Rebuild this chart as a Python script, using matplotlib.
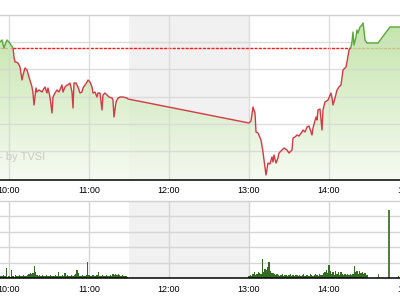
import numpy as np
import matplotlib
matplotlib.use("Agg")
import matplotlib.pyplot as plt
from matplotlib.patches import Rectangle
from matplotlib.colors import LinearSegmentedColormap
from matplotlib.transforms import blended_transform_factory

# ---------------- data (time in minutes since 09:00) ----------------
price_time = [53.25, 54.75, 56.25, 57.75, 58.5, 60, 61.5, 63, 63.75, 64.5, 65.25, 66.75,
              68.25, 69.75, 70.5, 72, 73.5, 75, 77.25, 78, 78.75, 80.25, 81, 82.5, 84.75,
              85.5, 87, 88.5, 89.25, 90.75, 92.25, 93, 94.5, 96, 97.5, 99.75, 100.5, 102,
              103.5, 104.25, 105.75, 107.25, 108, 108.75, 110.25, 111.75, 113.25, 114.75,
              115.5, 117, 118.5, 119.25, 120.75, 122.25, 123, 124.5, 126, 126.75, 128.25,
              129.75, 130.5, 132, 133.5, 135, 137.25, 138, 138.75, 140.25, 141.75, 143.25,
              144.75, 145.5, 148.5, 149.25,
              240, 241.5, 243, 244.5, 245.25, 246.75, 249, 250.5, 251.25, 252.75, 254.25,
              255.75, 257.25, 258, 258.75, 260.25, 261.75, 262.5, 264.75, 266.25, 268.5,
              270, 272.25, 273, 274.5, 276, 277.5, 279.75, 280.5, 282, 283.5, 285, 287.25,
              288, 290.25, 291, 291.75, 293.25, 294.75, 295.5, 297, 299.25, 301.5, 302.25,
              303, 304.5, 306, 307.5, 309, 310.5, 312.75, 313.5, 315, 316.5, 317.25, 318,
              318.75, 320.25, 321, 321.75, 323.25, 324.75, 325.5, 326.25, 327, 328.5,
              336.75, 345.75, 353.25]
price = [1013.7, 1013.9, 1013.1, 1013.7, 1013.9, 1013.7, 1013.4, 1013.1, 1012.2, 1011.7,
         1011.7, 1011.6, 1011.2, 1009.9, 1010.4, 1011.1, 1010.9, 1010.2, 1009.2, 1008.6,
         1007.4, 1009.1, 1008.7, 1008.9, 1008.7, 1008.9, 1009.2, 1008.6, 1009.1, 1008.2,
         1006.6, 1008.2, 1008.6, 1008.9, 1008.7, 1009.4, 1008.7, 1009.2, 1009.4, 1009.4,
         1009.6, 1008.7, 1007.1, 1009.6, 1009.6, 1009.2, 1008.6, 1008.7, 1009.1, 1009.4,
         1009.7, 1009.9, 1009.7, 1009.2, 1008.6, 1008.7, 1008.2, 1008.6, 1008.6, 1006.9,
         1008.4, 1008.6, 1008.4, 1008.2, 1008.1, 1007.9, 1006.2, 1007.7, 1008.1, 1008.2,
         1008.2, 1008.2, 1008.1, 1008.0,
         1005.6, 1005.8, 1007.2, 1006.6, 1004.7, 1004.6, 1003.9, 1002.7, 1001.9, 1000.4,
         1001.6, 1001.5, 1002.2, 1001.7, 1002.4, 1001.6, 1002.1, 1002.6, 1002.9, 1003.1,
         1002.9, 1002.6, 1002.9, 1004.1, 1004.2, 1004.4, 1004.3, 1004.7, 1004.9, 1004.7,
         1005.2, 1005.3, 1004.4, 1005.1, 1006.2, 1005.9, 1006.9, 1007.0, 1004.9, 1006.9,
         1007.7, 1007.9, 1008.6, 1008.1, 1007.4, 1008.1, 1008.9, 1009.2, 1009.4, 1010.9,
         1011.2, 1011.7, 1012.9, 1013.2, 1013.7, 1014.7, 1013.4, 1014.2, 1014.9, 1014.6,
         1015.2, 1015.4, 1015.6, 1014.9, 1013.9, 1013.6, 1013.6, 1015.2, 1015.2]
ref_price = 1013.1

vol_am_start = 54
vol_am = [2, 2, 3, 2, 11, 1, 2, 1, 9, 2, 1, 3, 2, 2, 3, 2, 2, 3, 2, 2, 3, 4, 5, 4, 5, 13,
          7, 3, 2, 3, 2, 3, 2, 2, 3, 2, 2, 3, 2, 2, 2, 3, 2, 7, 2, 2, 3, 2, 5, 2, 3, 2, 2,
          3, 2, 3, 4, 9, 5, 2, 2, 3, 2, 2, 3, 17, 3, 2, 2, 3, 2, 2, 3, 6, 2, 2, 3, 2, 2, 3,
          2, 2, 3, 2, 4, 3, 4, 3, 4, 3, 2, 3, 2, 2, 2, 1]
vol_pm_start = 240
vol_pm = [2, 3, 2, 4, 6, 3, 4, 7, 5, 4, 20, 7, 10, 9, 12, 17, 8, 5, 5, 4, 3, 4, 3, 2, 3,
          4, 2, 3, 3, 2, 3, 4, 2, 3, 2, 3, 3, 2, 3, 2, 3, 4, 2, 3, 3, 2, 4, 3, 2, 3, 4, 3,
          2, 4, 3, 3, 5, 6, 9, 5, 14, 8, 4, 7, 3, 8, 4, 6, 3, 7, 4, 3, 4, 3, 4, 3, 4, 3, 4,
          13, 6, 8, 4, 8, 5, 7, 4, 5, 3, 3]
vol_extra_time = [337, 345, 352]
vol_extra = [4, 70, 2]

hour_ticks = [60, 120, 180, 240, 300, 360]
hour_labels = ["10:00", "11:00", "12:00", "13:00", "14:00", "15:00"]
lunch_start, lunch_end = 150, 240

# ---------------- figure ----------------
xmin, xmax = 53.25, 353.25
pmin, pmax = 999.95, 1016.4
fig = plt.figure(figsize=(4, 3), dpi=100)
ax = fig.add_axes([0, 1 - 179.5 / 300, 1, (179.5 - 15) / 300])
axv = fig.add_axes([0, 1 - 278.3 / 300, 1, (278.3 - 200.7) / 300])

grid_c = '#d6d6d6'
font = ['Liberation Sans', 'DejaVu Sans']

# ---- price panel ----
ax.axvspan(lunch_start, lunch_end, color='#f1f1f1', lw=0, zorder=0)
for yv in [1002.8, 1005.5, 1008.2, 1011.0, 1013.7]:
    ax.axhline(yv, color=grid_c, lw=1.0, zorder=2.5, alpha=0.8)
for t in hour_ticks:
    ax.axvline(t, color=grid_c, lw=1.0, zorder=2.5, alpha=0.8)

ax.axhline(ref_price, color='#ff1a1a', lw=1.0, dashes=(2.2, 0.9), zorder=1.5)

poly = ax.fill_between(price_time, price, pmin, color='none', lw=0)
cmap = LinearSegmentedColormap.from_list('g', ['#f4faef', '#b3dd92'])
grad = np.linspace(0, 1, 256).reshape(-1, 1)
im = ax.imshow(grad, extent=[xmin, xmax, pmin, pmax], origin='lower', aspect='auto',
               cmap=cmap, alpha=0.8, zorder=2)
im.set_clip_path(poly.get_paths()[0], ax.transData)

l_red, = ax.plot(price_time, price, color='#d23a44', lw=1.0, zorder=4)
l_red.set_clip_path(Rectangle((xmin, 990), xmax - xmin, ref_price - 990, transform=ax.transData))
l_grn, = ax.plot(price_time, price, color='#5aa838', lw=1.0, zorder=4)
l_grn.set_clip_path(Rectangle((xmin, ref_price), xmax - xmin, 1030 - ref_price, transform=ax.transData))

ax.set_xlim(xmin, xmax)
ax.set_ylim(pmin, pmax)
ax.set_xticks([])
ax.set_yticks([])
for s in ['left', 'right']:
    ax.spines[s].set_visible(False)
ax.spines['top'].set_color('#d0d0d0')
ax.spines['top'].set_linewidth(1.0)
ax.spines['bottom'].set_color('black')
ax.spines['bottom'].set_linewidth(1.1)
ax.spines['bottom'].set_zorder(6)

ax.text(-0.003, (179.5 - 157.5) / 164.5, "- by TVSI", transform=ax.transAxes,
        ha='left', va='center', color='#c8ccc6', fontsize=8, family=font, zorder=5)

tr = blended_transform_factory(ax.transData, ax.transAxes)
for t, lab in zip(hour_ticks, hour_labels):
    ax.text(t, (179.5 - 190.5) / 164.5, lab, transform=tr, ha='center', va='center',
            fontsize=6.5, family=font, clip_on=False)

# ---- volume panel ----
axv.axvspan(lunch_start, lunch_end, color='#f1f1f1', lw=0, zorder=0)
for yv in [16, 32, 48, 64]:
    axv.axhline(yv, color=grid_c, lw=1.0, zorder=1)
for t in hour_ticks:
    axv.axvline(t, color=grid_c, lw=1.0, zorder=1)

am_t = np.arange(vol_am_start, vol_am_start + len(vol_am))
pm_t = np.arange(vol_pm_start, vol_pm_start + len(vol_pm))
bar_c = '#336b22'
axv.bar(am_t, vol_am, width=0.8, color=bar_c, lw=0, zorder=3)
axv.bar(pm_t, vol_pm, width=0.8, color=bar_c, lw=0, zorder=3)
axv.bar(vol_extra_time, vol_extra, width=0.8, color='#4f8040', lw=0, zorder=3)

axv.set_xlim(xmin, xmax)
axv.set_ylim(0, 80)
axv.set_xticks([])
axv.set_yticks([])
for s in ['left', 'right']:
    axv.spines[s].set_visible(False)
axv.spines['top'].set_color('#d0d0d0')
axv.spines['top'].set_linewidth(1.0)
axv.spines['bottom'].set_color('black')
axv.spines['bottom'].set_linewidth(1.1)
axv.spines['bottom'].set_zorder(6)

trv = blended_transform_factory(axv.transData, axv.transAxes)
for t, lab in zip(hour_ticks, hour_labels):
    axv.text(t, (278.3 - 289.5) / 77.6, lab, transform=trv, ha='center', va='center',
             fontsize=6.5, family=font, clip_on=False)

fig.savefig('out.png', dpi=100)
